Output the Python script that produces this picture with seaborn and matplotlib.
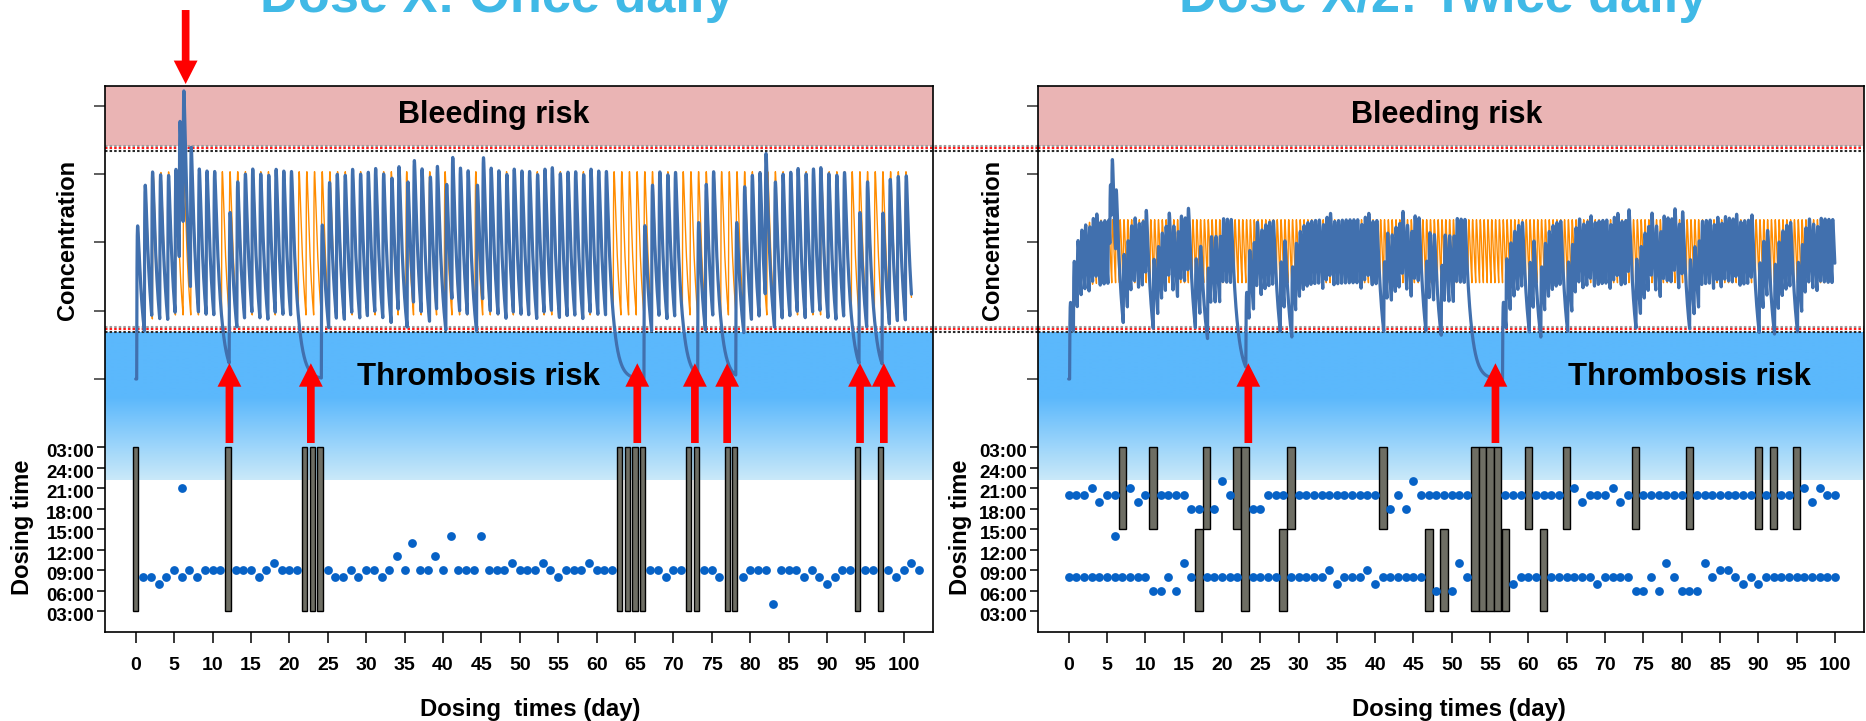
import numpy as np
import pandas as pd
import matplotlib
matplotlib.use("Agg")
import matplotlib.pyplot as plt
from matplotlib.patches import Rectangle, FancyArrow
from matplotlib.transforms import blended_transform_factory, ScaledTranslation
import seaborn as sns

# ---------------------------------------------------------------- dosing data
# Once daily regimen: clock hour of the intake for days 0..102 (None = missed)
ONCE_HOUR = [
    None, 8, 8, 7, 8, 9, 8, 9, 8, 9,          # 0-9
    9, 9, None, 9, 9, 9, 8, 9, 10, 9,         # 10-19
    9, 9, None, None, None, 9, 8, 8, 9, 8,    # 20-29
    9, 9, 8, 9, 11, 9, 13, 9, 9, 11,          # 30-39
    9, 14, 9, 9, 9, 14, 9, 9, 9, 10,          # 40-49
    9, 9, 9, 10, 9, 8, 9, 9, 9, 10,           # 50-59
    9, 9, 9, None, None, None, None, 9, 9, 8, # 60-69
    9, 9, None, None, 9, 9, 8, None, None, 8, # 70-79
    9, 9, 9, 4, 9, 9, 9, 8, 9, 8,             # 80-89
    7, 8, 9, 9, None, 9, 9, None, 9, 8,       # 90-99
    9, 10, 9,                                 # 100-102
]
ONCE_EXTRA = [(6, 21)]          # additional (day, hour) intake

# Twice daily regimen: morning and evening intake hour for days 0..100
TWICE_AM_HOUR = [
    8, 8, 8, 8, 8, 8, 8, 8, 8, 8,
    8, 6, 6, 8, 6, 10, 8, None, 8, 8,
    8, 8, 8, None, 8, 8, 8, 8, None, 8,
    8, 8, 8, 8, 9, 7, 8, 8, 8, 9,
    7, 8, 8, 8, 8, 8, 8, None, 6, None,
    6, 10, 8, None, None, None, None, None, 7, 8,
    8, 8, None, 8, 8, 8, 8, 8, 8, 7,
    8, 8, 8, 8, 6, 6, 8, 6, 10, 8,
    6, 6, 6, 10, 8, 9, 9, 8, 7, 8,
    7, 8, 8, 8, 8, 8, 8, 8, 8, 8,
    8,
]
TWICE_PM_HOUR = [
    20, 20, 20, 21, 19, 20, 20, None, 21, 19,
    20, None, 20, 20, 20, 20, 18, 18, None, 18,
    22, 20, None, None, 18, 18, 20, 20, 20, None,
    20, 20, 20, 20, 20, 20, 20, 20, 20, 20,
    20, None, 18, 20, 18, 22, 20, 20, 20, 20,
    20, 20, 20, None, None, None, None, 20, 20, 20,
    None, 20, 20, 20, 20, None, 21, 19, 20, 20,
    20, 21, 19, 20, None, 20, 20, 20, 20, 20,
    20, None, 20, 20, 20, 20, 20, 20, 20, 20,
    None, 20, None, 20, 20, None, 21, 19, 21, 20,
    20,
]
TWICE_EXTRA = [(6, 14)]

# reference (fully adherent) schedules
ONCE_IDEAL_HOURS = [9]
TWICE_IDEAL_HOURS = [8, 20]

# annotation arrows (day positions)
ONCE_ARROW_DAYS = [12.2, 22.8, 65.3, 72.8, 77.0, 94.3, 97.4]
TWICE_ARROW_DAYS = [23.45, 55.7]
OVERDOSE_ARROW_DAY = 6.5

# axes ticks
DAY_TICKS = list(range(0, 101, 5))
HOUR_TICKS = [3, 6, 9, 12, 15, 18, 21, 24, 27]
HOUR_LABELS = ["03:00", "06:00", "09:00", "12:00", "15:00",
               "18:00", "21:00", "24:00", "03:00"]
CONC_TICKS = [0, 1, 2, 3, 4]

# ------------------------------------------------------- pharmacokinetic model
DOSE_ONCE = 2.67
DOSE_TWICE = DOSE_ONCE / 2
KA = 1.0          # absorption rate constant (1/h)
KE = 0.058        # elimination rate constant (1/h)
DAY_START = 5     # clock hour at which a dosing day begins
END_ONCE = 101.0
END_TWICE = 100.0

BLEED_LINE = 3.38      # upper limit of the therapeutic window
THROMB_LINE = 0.727    # lower limit of the therapeutic window

# ---------------------------------------------------------------- styling
TITLE_COLOR = "#40b9e6"
BLEED_COLOR = "#eab4b4"
THROMB_TOP = np.array([91, 184, 252]) / 255
THROMB_BOTTOM = np.array([202, 233, 249]) / 255
CONC_COLOR = "#4170ae"
IDEAL_COLOR = "#ff8c00"
DOT_COLOR = "#0762c6"
BAR_COLOR = "#6e6e64"

W, H = 1866, 721
CONC_LIM = (-3.703, 4.288)
HOUR_LIM = (-0.073, 79.83)
DAY_LIM = (-4.0, 103.8)

sns.set_theme(style="white")
plt.rcParams["font.family"] = ["Liberation Sans", "DejaVu Sans"]
plt.rcParams["font.weight"] = "bold"
plt.rcParams["axes.labelweight"] = "bold"


def dose_time(day, hour):
    return day - 1 + (hour - DAY_START) / 24.0


def concentration(t, dose_t, amount):
    lag = (t[:, None] - dose_t[None, :]) * 24.0
    lag = np.where(lag > 0, lag, 0.0)
    resp = amount * KA / (KA - KE) * (np.exp(-KE * lag) - np.exp(-KA * lag))
    return resp.sum(axis=1)


def records(columns, extra):
    rows = []
    for hours in columns:
        rows += [(d, h) for d, h in enumerate(hours) if h is not None]
    rows += list(extra)
    return pd.DataFrame(rows, columns=["day", "hour"]).sort_values(["day", "hour"])


def ideal_records(n_days, hours):
    rows = [(d, h) for d in range(1, n_days + 1) for h in hours]
    return pd.DataFrame(rows, columns=["day", "hour"])


def px_rect(x0, x1, y0, y1):
    return [x0 / W, 1 - y1 / H, (x1 - x0) / W, (y1 - y0) / H]


def fig_xy(x, y):
    return x / W, 1 - y / H


fig = plt.figure(figsize=(W / 100, H / 100), dpi=100)
ax_l = fig.add_axes(px_rect(105, 933, 86, 632))
ax_r = fig.add_axes(px_rect(1038, 1864, 86, 632))

once = records([ONCE_HOUR], ONCE_EXTRA)
twice = records([TWICE_AM_HOUR, TWICE_PM_HOUR], TWICE_EXTRA)

once_bars = [(d, 3, 27) for d, h in enumerate(ONCE_HOUR) if h is None]
twice_bars = []
for d, (am, pm) in enumerate(zip(TWICE_AM_HOUR, TWICE_PM_HOUR)):
    if am is None and pm is None:
        twice_bars.append((d, 3, 27))
    elif am is None:
        twice_bars.append((d, 3, 15))
    elif pm is None:
        twice_bars.append((d, 15, 27))

panels = [
    dict(ax=ax_l, doses=once, ideal=ideal_records(101, ONCE_IDEAL_HOURS),
         amount=DOSE_ONCE, t_end=END_ONCE, bars=once_bars, bar_w=0.68,
         arrows=ONCE_ARROW_DAYS, line_ext=(1038 - 105) / 828,
         bleed_x=0.4698, thromb_x=0.451,
         title="Dose X: Once daily", title_x=496.6,
         xlabel="Dosing  times (day)", xlabel_x=530,
         conc_lab_x=67.7, time_lab_x=22),
    dict(ax=ax_r, doses=twice, ideal=ideal_records(100, TWICE_IDEAL_HOURS),
         amount=DOSE_TWICE, t_end=END_TWICE, bars=twice_bars, bar_w=0.98,
         arrows=TWICE_ARROW_DAYS, line_ext=1.0,
         bleed_x=0.4945, thromb_x=0.789,
         title="Dose X/2: Twice daily", title_x=1443.5,
         xlabel="Dosing times (day)", xlabel_x=1459,
         conc_lab_x=993, time_lab_x=961),
]

for p in panels:
    ax = p["ax"]
    ax.set_xlim(*DAY_LIM)
    ax.set_ylim(*CONC_LIM)
    ax.set_facecolor("white")
    mixed = blended_transform_factory(ax.transAxes, ax.transData)

    # risk zones
    ax.add_patch(Rectangle((0, BLEED_LINE + 0.036), 1, CONC_LIM[1] - BLEED_LINE,
                           transform=mixed, facecolor=BLEED_COLOR,
                           edgecolor="none", zorder=0))
    thromb_top, thromb_bottom = THROMB_LINE - 0.039, -1.478
    frac = np.linspace(0, 1, 300)
    mix = np.clip((frac - 0.44) / 0.56, 0, 1)[:, None]
    grad = THROMB_TOP * (1 - mix) + THROMB_BOTTOM * mix
    ax.imshow(grad[:, None, :], extent=(DAY_LIM[0], DAY_LIM[1], thromb_bottom, thromb_top),
              aspect="auto", origin="upper", zorder=0, interpolation="bilinear")

    # therapeutic window limits
    for base in (BLEED_LINE, THROMB_LINE):
        for off, col in ((0.036, "#9c9c9c"), (0.0, "#ff1a1a"), (-0.039, "#2a2a2a")):
            ax.plot([0, p["line_ext"]], [base + off] * 2, transform=mixed,
                    color=col, lw=1.5, ls=(0, (1.2, 1.0)), clip_on=False, zorder=2)

    # concentration profiles
    t = np.arange(0, p["t_end"], 1 / 144)
    ideal_t = dose_time(p["ideal"]["day"].to_numpy(), p["ideal"]["hour"].to_numpy())
    real_t = dose_time(p["doses"]["day"].to_numpy(), p["doses"]["hour"].to_numpy())
    ideal_t = ideal_t[(ideal_t >= 0) & (ideal_t < p["t_end"])]
    real_t = real_t[(real_t >= 0) & (real_t < p["t_end"])]
    sns.lineplot(x=t, y=concentration(t, ideal_t, p["amount"]), ax=ax,
                 color=IDEAL_COLOR, lw=1.0, estimator=None, sort=False, zorder=3)
    sns.lineplot(x=t, y=concentration(t, real_t, p["amount"]), ax=ax,
                 color=CONC_COLOR, lw=2.3, estimator=None, sort=False, zorder=4)

    # thrombosis-risk arrows
    for x in p["arrows"]:
        ax.add_patch(FancyArrow(x, -0.937, 0, 1.167, width=1.0, head_width=3.1,
                                head_length=0.343, length_includes_head=True,
                                color="#ff0000", lw=0, zorder=7))

    ax.text(p["bleed_x"], 3.742, "Bleeding risk", transform=mixed, ha="center",
            va="baseline", fontsize=22, fontweight="bold", color="black", zorder=8)
    ax.text(p["thromb_x"], -0.09, "Thrombosis risk", transform=mixed, ha="center",
            va="baseline", fontsize=22.5, fontweight="bold", color="black", zorder=8)

    # dosing times on a second scale sharing the same frame
    ax2 = ax.twinx()
    ax2.set_ylim(*HOUR_LIM)
    ax2.set_xlim(*DAY_LIM)
    for d, lo, hi in p["bars"]:
        ax2.add_patch(Rectangle((d - p["bar_w"] / 2, lo), p["bar_w"], hi - lo,
                                facecolor=BAR_COLOR, edgecolor="black", lw=1.0, zorder=5))
    sns.scatterplot(data=p["doses"], x="day", y="hour", ax=ax2, color=DOT_COLOR,
                    s=40, linewidth=0, zorder=6, legend=False)
    ax2.set_xlabel("")
    ax2.set_ylabel("")
    ax2.set_yticks(HOUR_TICKS)
    ax2.set_yticklabels(HOUR_LABELS)
    ax2.yaxis.set_ticks_position("left")
    ax2.tick_params(axis="y", left=True, right=False, labelleft=True, labelright=False,
                    length=5.8, width=1.1, pad=2, labelsize=13.5, colors="black")
    shift = ScaledTranslation(0, -3.5 / 100, fig.dpi_scale_trans)
    for lab in ax2.get_yticklabels():
        lab.set_fontweight("bold")
        lab.set_transform(lab.get_transform() + shift)
    for s in ax2.spines.values():
        s.set_visible(False)

    # axes styling
    ax.set_xlabel("")
    ax.set_ylabel("")
    ax.set_xticks(DAY_TICKS)
    ax.set_xticklabels([str(v) for v in DAY_TICKS], fontweight="bold")
    ax.set_yticks(CONC_TICKS)
    ax.tick_params(axis="x", bottom=True, length=7.7, width=1.1, pad=10,
                   labelsize=14, colors="black")
    ax.tick_params(axis="y", left=True, length=7.7, width=1.1, labelleft=False,
                   colors="#333333")
    for s in ax.spines.values():
        s.set_visible(True)
        s.set_color("black")
        s.set_linewidth(1.2)
        s.set_zorder(9)

    # titles and axis labels
    fig.text(*fig_xy(p["title_x"], 11.7), p["title"], ha="center", va="baseline",
             fontsize=37.7, fontweight="bold", color=TITLE_COLOR)
    fig.text(*fig_xy(p["xlabel_x"], 716), p["xlabel"], ha="center", va="baseline",
             fontsize=17.2, fontweight="bold", color="black")
    fig.text(*fig_xy(p["conc_lab_x"], 240), "Concentration", rotation=90,
             ha="center", va="center", fontsize=17, fontweight="bold", color="black")
    fig.text(*fig_xy(p["time_lab_x"], 527), "Dosing time", rotation=90,
             ha="center", va="center", fontsize=17, fontweight="bold", color="black")

# intake of an extra dose pushes the level into the bleeding zone
ax_l.add_patch(FancyArrow(OVERDOSE_ARROW_DAY, 5.40, 0, -1.083, width=1.0, head_width=3.1,
                          head_length=0.343, length_includes_head=True,
                          color="#ff0000", lw=0, zorder=10, clip_on=False))

fig.savefig("out.png", dpi=100)
